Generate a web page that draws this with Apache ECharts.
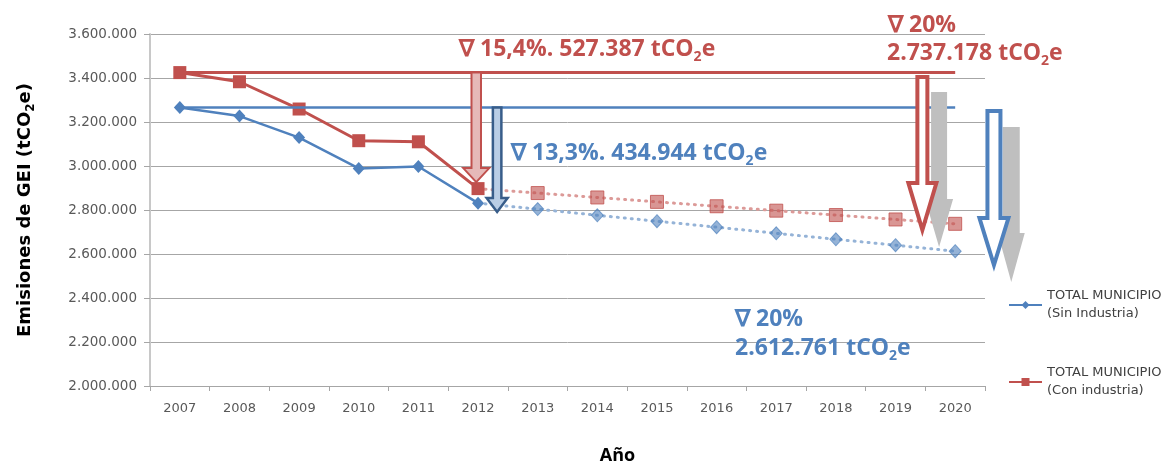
<!DOCTYPE html>
<html lang="es">
<head>
<meta charset="UTF-8">
<title>Emisiones de GEI</title>
<style>
  html, body { margin: 0; padding: 0; background: #fff; }
  #chart { width: 1164px; height: 465px; }
</style>
</head>
<body>
<div id="chart"></div>
<script src="https://cdn.jsdelivr.net/npm/echarts@6/dist/echarts.min.js"></script>
<script>
// --- datos ---
var years = ['2007', '2008', '2009', '2010', '2011', '2012', '2013', '2014', '2015', '2016', '2017', '2018', '2019', '2020'];
// 2007-2012 (real)
var sinHist = [3266000, 3227000, 3129000, 2989000, 2998000, 2831056];
var conHist = [3424591, 3383000, 3259000, 3115000, 3110000, 2897204];
// 2012-2020 (proyección)
var sinProj = [2831056, 2804000, 2776000, 2749000, 2722000, 2694000, 2667000, 2640000, 2612761];
var conProj = [2897204, 2877000, 2857000, 2837000, 2817000, 2797000, 2777000, 2757000, 2737178];
var yTicks = [2000000, 3600000, 200000]; // min, max, intervalo

var RED = '#c0504d', BLUE = '#4f81bd';
var nameSin = 'TOTAL MUNICIPIO\n(Sin Industria)';
var nameCon = 'TOTAL MUNICIPIO\n(Con industria)';

function fmt(v) { return String(v).replace(/\B(?=(\d{3})+(?!\d))/g, '.'); }

// series completas sobre los 14 años
function histData(arr) {
    return years.map(function (y, i) { return i < arr.length ? arr[i] : null; });
}
function projData(arr) {
    var off = years.length - arr.length;
    return years.map(function (y, i) {
        if (i < off) return null;
        if (i === off) return { value: arr[0], symbol: 'none' };
        return arr[i - off];
    });
}

var chart = echarts.init(document.getElementById('chart'));

var option = {
    animation: false,
    backgroundColor: '#fff',
    grid: { left: 150, right: 179, top: 34, bottom: 79, containLabel: false, outerBoundsMode: 'none' },
    legend: {
        data: [nameSin, nameCon],
        orient: 'vertical',
        left: 1003,
        top: 273,
        itemWidth: 33,
        itemHeight: 10,
        itemGap: 23,
        textStyle: {
            fontFamily: 'DejaVu Sans', fontSize: 13, color: '#404040',
            lineHeight: 18, padding: [18, 0, 0, 0]
        }
    },
    xAxis: {
        type: 'category',
        data: years,
        boundaryGap: true,
        name: 'Año',
        nameLocation: 'middle',
        nameGap: 61,
        nameTextStyle: {
            fontFamily: 'Open Sans', fontWeight: 'bold', fontSize: 18, color: '#000',
            padding: [0, 0, 0, 100]
        },
        axisLine: { lineStyle: { color: '#a6a6a6', width: 1 } },
        axisTick: { show: true, length: 5, alignWithLabel: false, interval: 0, lineStyle: { color: '#a6a6a6' } },
        axisLabel: { interval: 0, margin: 16, fontFamily: 'DejaVu Sans', fontSize: 13, color: '#595959' },
        splitLine: { show: false }
    },
    yAxis: {
        type: 'value',
        min: yTicks[0],
        max: yTicks[1],
        interval: yTicks[2],
        name: '{b|Emisiones de GEI (tCO}{s|2}{b|e)}',
        nameLocation: 'middle',
        nameGap: 113,
        nameTextStyle: {
            rich: {
                b: { fontFamily: 'DejaVu Sans', fontWeight: 'bold', fontSize: 18, color: '#000', lineHeight: 24 },
                s: { fontFamily: 'DejaVu Sans', fontWeight: 'bold', fontSize: 12, color: '#000', verticalAlign: 'bottom', lineHeight: 24 }
            }
        },
        axisLine: { show: true, lineStyle: { color: '#c8c8c8', width: 2 } },
        axisTick: { show: true, length: 6, lineStyle: { color: '#a6a6a6' } },
        axisLabel: {
            margin: 13, fontFamily: 'DejaVu Sans', fontSize: 13.5, color: '#595959',
            formatter: function (v) { return fmt(v); }
        },
        splitLine: { show: true, lineStyle: { color: '#a6a6a6', width: 1 } }
    },
    series: [
        {
            name: nameSin + ' proj',
            type: 'line',
            data: projData(sinProj),
            symbol: 'diamond',
            symbolSize: [12, 13],
            z: 3,
            lineStyle: { color: '#95b3d7', width: 3, type: [1, 6], cap: 'round' },
            itemStyle: { color: 'rgba(79,129,189,0.6)', borderColor: 'rgba(79,129,189,0.7)', borderWidth: 1 }
        },
        {
            name: nameCon + ' proj',
            type: 'line',
            data: projData(conProj),
            symbol: 'rect',
            symbolSize: 13,
            z: 3,
            lineStyle: { color: '#dc9a98', width: 3, type: [1, 6], cap: 'round' },
            itemStyle: { color: 'rgba(192,80,77,0.6)', borderColor: 'rgba(192,80,77,0.8)', borderWidth: 1 }
        },
        {
            name: nameSin,
            type: 'line',
            data: histData(sinHist),
            symbol: 'diamond',
            symbolSize: [12, 13],
            z: 4,
            lineStyle: { color: BLUE, width: 2.5 },
            itemStyle: { color: BLUE },
            markLine: {
                silent: true,
                symbol: 'none',
                label: { show: false },
                lineStyle: { color: BLUE, width: 2.5, type: 'solid' },
                data: [[{ coord: [years[0], sinHist[0]] }, { coord: [years[years.length - 1], sinHist[0]] }]]
            }
        },
        {
            name: nameCon,
            type: 'line',
            data: histData(conHist),
            symbol: 'rect',
            symbolSize: 13,
            z: 4,
            lineStyle: { color: RED, width: 3 },
            itemStyle: { color: RED },
            markLine: {
                silent: true,
                symbol: 'none',
                label: { show: false },
                lineStyle: { color: RED, width: 3, type: 'solid' },
                data: [[{ coord: [years[0], conHist[0]] }, { coord: [years[years.length - 1], conHist[0]] }]]
            }
        }
    ]
};

chart.setOption(option);

// --- flechas de reducción (ancladas a la escala del gráfico) ---
function px(idx, val) {
    var a = chart.convertToPixel({ gridIndex: 0 }, [0, val]);
    var b = chart.convertToPixel({ gridIndex: 0 }, [1, val]);
    return [a[0] + (b[0] - a[0]) * idx, a[1]];
}
function arrow(idx, vTop, vTip, shaftW, headW, headH, style) {
    var top = px(idx, vTop), tip = px(idx, vTip);
    var cx = top[0], yt = top[1], yp = tip[1], yh = yp - headH;
    return {
        type: 'polygon',
        z: 100,
        shape: {
            points: [
                [cx - shaftW / 2, yt], [cx - shaftW / 2, yh], [cx - headW / 2, yh], [cx, yp],
                [cx + headW / 2, yh], [cx + shaftW / 2, yh], [cx + shaftW / 2, yt]
            ]
        },
        style: style
    };
}
function label(x, y, parts, color) {
    return {
        type: 'text',
        z: 101,
        left: x,
        top: y,
        style: {
            text: parts,
            rich: {
                a: { fontFamily: 'Open Sans', fontWeight: 'bold', fontSize: 23, fill: color, lineHeight: 30 },
                s: { fontFamily: 'Open Sans', fontWeight: 'bold', fontSize: 14, fill: color, verticalAlign: 'bottom', lineHeight: 30 }
            }
        }
    };
}

var redBase = conHist[0], blueBase = sinHist[0];
chart.setOption({
    graphic: [
        // 2012
        arrow(4.97, redBase, 2927000, 9.5, 26, 14, { fill: '#e6b9b8', stroke: RED, lineWidth: 2 }),
        arrow(5.32, blueBase, 2791000, 8.5, 21, 14, { fill: '#b9cde5', stroke: '#385d8a', lineWidth: 2.5 }),
        // 2020 sombras
        arrow(12.73, 3336000, 2632000, 16, 28, 48, { fill: '#bfbfbf' }),
        arrow(13.94, 3177000, 2473000, 17, 27, 49, { fill: '#bfbfbf' }),
        // 2020
        arrow(12.45, 3405000, 2709000, 10, 28, 47, { fill: '#fff', stroke: RED, lineWidth: 4 }),
        arrow(13.65, 3250000, 2550000, 13, 29, 47, { fill: '#fff', stroke: BLUE, lineWidth: 4 }),
        // textos
        label(459, 38, '{a|∇ 15,4%. 527.387 tCO}{s|2}{a|e}', RED),
        label(511, 142, '{a|∇ 13,3%. 434.944 tCO}{s|2}{a|e}', BLUE),
        label(888, 14, '{a|∇ 20%}', RED),
        label(887, 42, '{a|2.737.178 tCO}{s|2}{a|e}', RED),
        label(735, 308, '{a|∇ 20%}', BLUE),
        label(735, 337, '{a|2.612.761 tCO}{s|2}{a|e}', BLUE)
    ]
});
</script>
</body>
</html>
